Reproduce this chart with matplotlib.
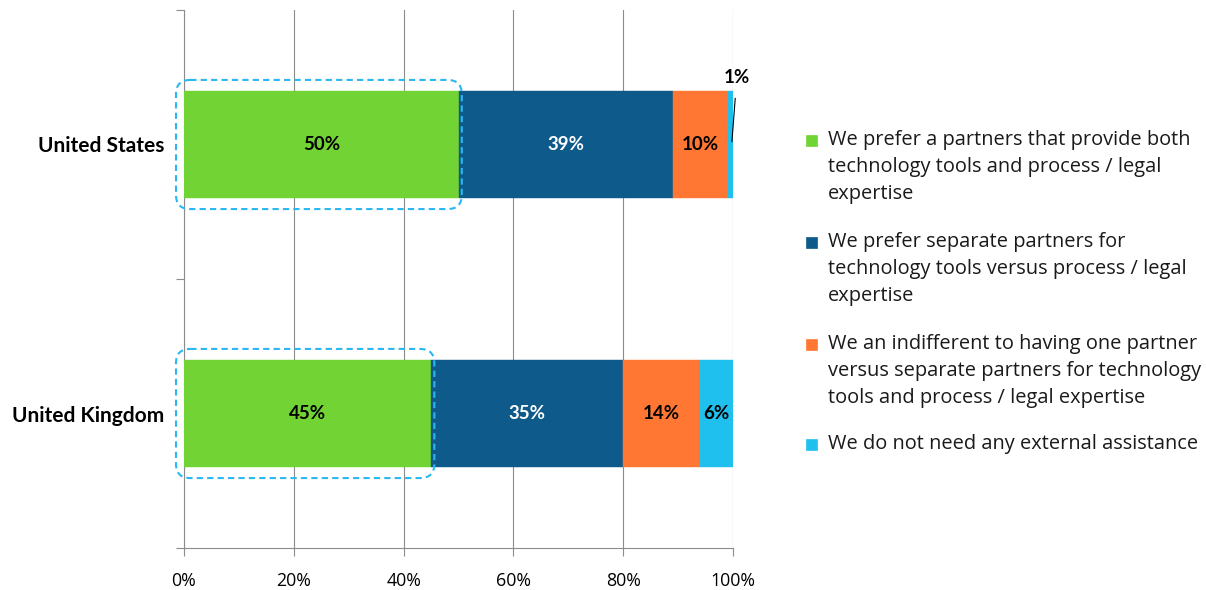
import matplotlib
matplotlib.use("Agg")
import matplotlib.pyplot as plt
from matplotlib.patches import FancyBboxPatch, Rectangle
import numpy as np

plt.rcParams['font.family'] = ['Lato', 'DejaVu Sans']

categories = ["United States", "United Kingdom"]
series_names = [
    "We prefer a partners that provide both\ntechnology tools and process / legal\nexpertise",
    "We prefer separate partners for\ntechnology tools versus process / legal\nexpertise",
    "We an indifferent to having one partner\nversus separate partners for technology\ntools and process / legal expertise",
    "We do not need any external assistance",
]
both_partner = [50, 45]
separate_partners = [39, 35]
indifferent = [10, 14]
no_assistance = [1, 6]
xtick_labels = ["0%", "20%", "40%", "60%", "80%", "100%"]

series = [both_partner, separate_partners, indifferent, no_assistance]
colors = ["#72D434", "#0E5A8A", "#FF7733", "#20C0EE"]
text_colors = ["black", "white", "black", "black"]

W, H = 1206, 590
fig = plt.figure(figsize=(W/100, H/100), dpi=100)
ax = fig.add_axes([184/W, 1-548/H, (733-184)/W, (548-10)/H])

y = np.arange(len(categories))
left = np.zeros(len(categories))
for i, vals in enumerate(series):
    vals = np.array(vals, dtype=float)
    ax.barh(y, vals, left=left, height=0.4, color=colors[i],
            edgecolor=colors[i], linewidth=0.3, zorder=3)
    for j, v in enumerate(vals):
        if v >= 3:
            ax.text(left[j] + v/2, y[j], f"{int(v)}%", ha="center", va="center",
                    fontsize=13.5, fontweight="bold", color=text_colors[i], zorder=5)
    left += vals

# small 1% label with leader line
us_small = no_assistance[0]
ax.annotate(f"{us_small}%", xy=(100 - us_small/2 + 0.3, -0.01), xytext=(100.7, -0.25),
            ha="center", va="center", fontsize=13.5, fontweight="bold",
            arrowprops=dict(arrowstyle="-", color="black", lw=0.8, shrinkA=7, shrinkB=0),
            zorder=6, annotation_clip=False)

# dashed rounded highlight boxes around first series
px_x = (733-184)/100.0
px_y = 270.0
for j, v in enumerate(both_partner):
    x0 = -1.46
    x1 = v + 0.6
    h = 0.48
    box = FancyBboxPatch((x0, y[j]-h/2), x1-x0, h,
                         boxstyle="round,pad=0,rounding_size=2.6",
                         mutation_aspect=px_x/px_y,
                         fill=False, edgecolor="#2AB8F2", linewidth=1.5,
                         linestyle=(0, (3, 2)), zorder=6, clip_on=False)
    ax.add_patch(box)

ax.set_xlim(0, 100)
ax.set_ylim(1.5, -0.5)
ax.set_xticks(np.arange(0, 101, 20))
ax.set_xticklabels(xtick_labels, fontsize=12.8, family=['Open Sans', 'DejaVu Sans'])
ax.set_yticks([-0.5, 0.5, 1.5])
ax.set_yticklabels([])
ax.set_yticks(y, minor=True)
ax.set_yticklabels(categories, minor=True, fontsize=15, fontweight="bold")
ax.tick_params(axis="y", which="minor", length=0, pad=14)
ax.tick_params(axis="y", which="major", length=6, color="#8C8C8C", direction="out")
ax.tick_params(axis="x", length=6, color="#8C8C8C", direction="out", pad=11)

ax.grid(axis="x", color="#8C8C8C", linewidth=0.8, zorder=0)
ax.set_axisbelow(True)
for s in ["top", "right"]:
    ax.spines[s].set_visible(False)
for s in ["left", "bottom"]:
    ax.spines[s].set_color("#8C8C8C")
    ax.spines[s].set_linewidth(0.8)

# legend, drawn entry by entry
entry_tops = [140, 242, 344, 444]
line_gap = 27
for name, col, y0 in zip(series_names, colors, entry_tops):
    fig.patches.append(Rectangle(((806)/W, 1-(y0+6)/H), 11/W, 11/H,
                                 transform=fig.transFigure, facecolor=col,
                                 edgecolor=col, linewidth=0.5))
    for k, line in enumerate(name.split("\n")):
        fig.text(828/W, 1-(y0 + k*line_gap)/H, line, ha="left", va="center",
                 fontsize=14.4, family=['Open Sans', 'DejaVu Sans'], color="#1a1a1a")

fig.savefig("out.png", dpi=100)
